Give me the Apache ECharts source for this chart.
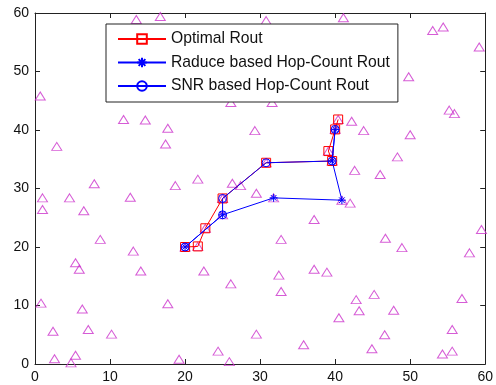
<!DOCTYPE html>
<html>
<head>
<meta charset="utf-8">
<script src="https://cdn.jsdelivr.net/npm/echarts@6/dist/echarts.min.js"></script>
<style>
  html, body { margin: 0; padding: 0; background: #fff; }
  #chart { width: 496px; height: 385px; }
</style>
</head>
<body>
<div id="chart"></div>
<script>
// Sensor node positions (x, y) in the 60 x 60 field
const nodeX = [0.7, 2.9, 11.8, 14.7, 17.7, 17.4, 13.5, 16.7, 7.9, 18.7, 21.7, 26.3, 27.4, 26.1, 31.6,
  30.8, 41.1, 53.0, 54.4, 59.2, 49.8, 55.2, 55.9, 29.3, 42.2, 43.8, 50.0, 48.3, 42.6, 46.0,
  29.5, 42.0, 1.0, 4.6, 12.7, 1.0, 6.5, 8.7, 13.1, 5.4, 5.9, 14.1, 22.5, 26.1, 0.8,
  17.7, 6.3, 2.4, 7.1, 10.2, 2.6, 5.4, 4.8, 19.2, 24.4, 25.9, 37.2, 32.8, 46.7, 48.9,
  59.5, 57.9, 37.2, 38.9, 32.5, 32.8, 42.8, 45.2, 43.2, 47.8, 56.9, 40.5, 29.5, 55.6, 46.6,
  35.8, 44.9, 54.3, 55.6,
  20.0, 21.7, 22.7, 25.0, 25.0, 30.8, 31.8, 39.6, 40.9, 39.1, 40.0, 40.4];
const nodeY = [45.8, 37.2, 41.8, 41.7, 40.3, 37.6, 58.9, 59.4, 30.8, 30.5, 31.6, 30.9, 30.5, 44.7, 44.7,
  58.7, 59.2, 57.0, 57.6, 54.2, 49.1, 43.4, 42.8, 39.9, 41.5, 39.9, 39.2, 35.4, 33.1, 32.4,
  29.2, 27.5, 28.4, 28.4, 28.5, 26.4, 26.2, 21.3, 19.3, 17.3, 16.2, 15.9, 15.9, 13.7, 10.4,
  10.3, 9.4, 5.6, 5.9, 5.1, 0.9, 1.5, 0.2, 0.8, 2.2, 0.4, 24.7, 21.3, 21.5, 19.9,
  23.0, 19.0, 16.2, 15.7, 15.2, 12.4, 11.0, 11.9, 9.1, 9.2, 11.2, 7.9, 5.1, 5.9, 5.0,
  3.3, 2.6, 1.7, 2.2,
  20.0, 20.1, 23.2, 28.3, 25.5, 34.4, 28.4, 34.7, 28.0, 36.4, 40.1, 41.8];

// Routes from source (20, 20) towards the sink
const optimalX = [20.0, 21.7, 22.7, 25.0, 30.8, 39.6, 39.1, 40.0, 40.4];
const optimalY = [20.0, 20.1, 23.2, 28.3, 34.4, 34.7, 36.4, 40.1, 41.8];
const raduceX = [20.0, 25.0, 31.8, 40.9, 39.6, 40.0];
const raduceY = [20.0, 25.5, 28.4, 28.0, 34.7, 40.1];
const snrX = [20.0, 25.0, 25.0, 30.8, 39.6, 40.0];
const snrY = [20.0, 25.5, 28.3, 34.4, 34.7, 40.1];

const seriesNames = ['Optimal Rout', 'Raduce based Hop-Count Rout', 'SNR based Hop-Count Rout'];
const axisTicks = [0, 10, 20, 30, 40, 50, 60];

const zip = (xs, ys) => xs.map((x, i) => [x, ys[i]]);

const FONT = 'Liberation Sans, Arial, sans-serif';
const AXIS_COLOR = '#222';
const STAR = 'path://M5,0L5,10M0,5L10,5M1.5,1.5L8.5,8.5M1.5,8.5L8.5,1.5';

function valueAxis(pos, showLabels) {
  return {
    type: 'value',
    position: pos,
    min: axisTicks[0],
    max: axisTicks[axisTicks.length - 1],
    interval: 10,
    splitLine: { show: false },
    axisLine: { show: true, onZero: false, lineStyle: { color: AXIS_COLOR, width: 1 } },
    axisTick: { show: true, inside: true, length: 5, lineStyle: { color: AXIS_COLOR } },
    axisLabel: {
      show: showLabels,
      color: '#111',
      fontSize: 14,
      fontFamily: FONT,
      margin: 6
    }
  };
}

const chart = echarts.init(document.getElementById('chart'), null, { renderer: 'canvas' });
chart.setOption({
  animation: false,
  backgroundColor: '#fff',
  grid: { left: 35, right: 7, top: 13, bottom: 21, containLabel: false },
  xAxis: [valueAxis('bottom', true), valueAxis('top', false)],
  yAxis: [valueAxis('left', true), valueAxis('right', false)],
  legend: {
    data: seriesNames,
    orient: 'vertical',
    left: 106,
    top: 24,
    padding: [7, 8, 8, 11],
    itemWidth: 48,
    itemHeight: 12,
    itemGap: 7.5,
    backgroundColor: '#fff',
    borderColor: '#222',
    borderWidth: 1,
    textStyle: { fontSize: 15.7, fontFamily: FONT, color: '#111' }
  },
  series: [
    {
      name: 'nodes',
      type: 'scatter',
      data: zip(nodeX, nodeY),
      symbol: 'triangle',
      symbolSize: [10, 8],
      itemStyle: { color: 'rgba(0,0,0,0)', borderColor: '#cc33cc', borderWidth: 1 },
      z: 2
    },
    {
      name: seriesNames[0],
      type: 'line',
      data: zip(optimalX, optimalY),
      symbol: 'rect',
      symbolSize: 9,
      lineStyle: { color: '#ff0000', width: 1 },
      itemStyle: { color: 'rgba(0,0,0,0)', borderColor: '#ff0000', borderWidth: 1 },
      z: 3
    },
    {
      name: seriesNames[1],
      type: 'line',
      data: zip(raduceX, raduceY),
      symbol: STAR,
      symbolSize: 8,
      lineStyle: { color: '#0000ff', width: 1 },
      itemStyle: { color: 'rgba(0,0,0,0)', borderColor: '#0000ff', borderWidth: 1 },
      z: 4
    },
    {
      name: seriesNames[2],
      type: 'line',
      data: zip(snrX, snrY),
      symbol: 'circle',
      symbolSize: 8,
      lineStyle: { color: '#0000ff', width: 1 },
      itemStyle: { color: 'rgba(0,0,0,0)', borderColor: '#0000ff', borderWidth: 1 },
      z: 5
    }
  ]
});
</script>
</body>
</html>
